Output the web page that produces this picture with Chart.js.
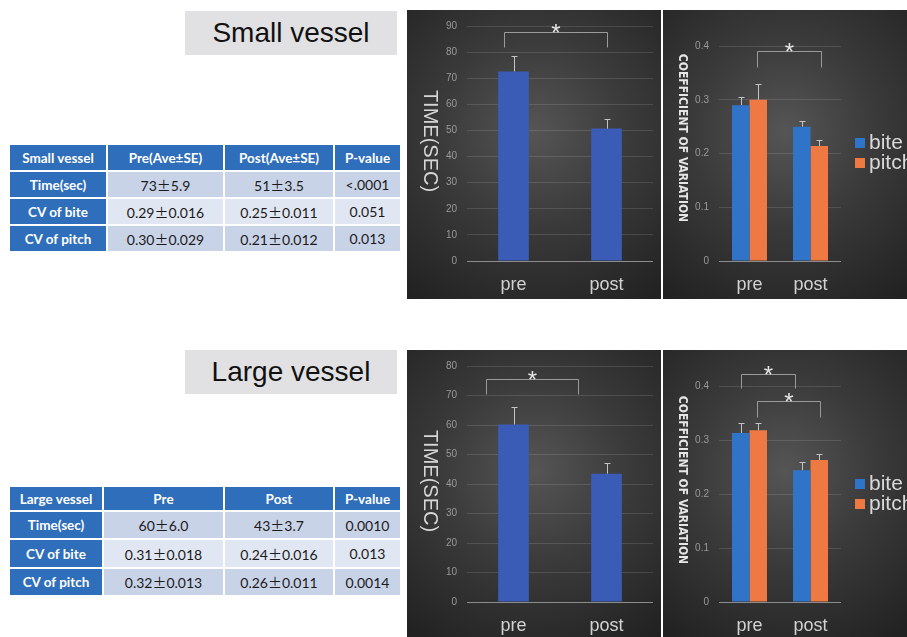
<!DOCTYPE html>
<html>
<head>
<meta charset="utf-8">
<script src="https://cdn.jsdelivr.net/npm/chart.js@4.4.1/dist/chart.umd.min.js"></script>
<style>
  body { margin: 0; width: 907px; height: 637px; overflow: hidden; background: #fff; position: relative; font-family: 'Liberation Sans', Arial, sans-serif; }
  .title { position: absolute; left: 185px; width: 212px; height: 44px; background: #e1e1e3; color: #111; font-size: 28px; text-align: center; line-height: 44px; }
  .panel { position: absolute; background: radial-gradient(ellipse 80% 70% at 50% 42%, #555 0%, #3b3b3b 45%, #222 100%); }
  .panel canvas { position: absolute; left: 0; top: 0; }
  .ytitle { position: absolute; writing-mode: vertical-rl; transform: translate(-50%, -50%); white-space: nowrap; }
  .ytime { font-size: 20px; color: #d6d6d6; }
  .ycv { font-size: 12px; font-weight: bold; color: #e6e6e6; font-family: 'Liberation Sans Narrow', 'DejaVu Sans Condensed', sans-serif; }
  .legend { position: absolute; left: 192px; font-size: 21px; color: #d9d9d9; white-space: nowrap; }
  .legend div { height: 20px; line-height: 20px; }
  .legend span.box { display: inline-block; width: 10px; height: 10px; margin-right: 4px; vertical-align: 1px; }
  table { position: absolute; left: 8px; border-collapse: collapse; table-layout: fixed; font-family: Lato, 'Open Sans', sans-serif; }
  td { border: 2px solid #fff; text-align: center; padding: 0; font-size: 14px; color: #1a1a1a; }
  td.head { background: #2f6eba; color: #fff; font-weight: bold; font-size: 13.5px; }
  tr.dark td { background: #c9d3e8; }
  tr.light td { background: #e1e7f2; }
  tr td.head { background: #2f6eba; }
  .pm { font-family: 'Noto Sans CJK JP', sans-serif; }
</style>
</head>
<body>

<div class="title" style="top:11px">Small vessel</div>
<div class="title" style="top:350px">Large vessel</div>

<table id="tSmall" style="top:143px"></table>
<table id="tLarge" style="top:485px"></table>

<div class="panel" style="left:407px;top:10px;width:254px;height:289px">
  <canvas id="c1" width="254" height="289"></canvas>
  <div class="ytitle ytime" style="left:23px;top:131px">TIME(SEC)</div>
</div>
<div class="panel" style="left:663px;top:10px;width:244px;height:289px">
  <canvas id="c2" width="244" height="289"></canvas>
  <div class="ytitle ycv" style="left:20px;top:128px">COEFFICIENT OF VARIATION</div>
  <div class="legend" id="lg2" style="top:122px"></div>
</div>
<div class="panel" style="left:407px;top:350px;width:254px;height:287px">
  <canvas id="c3" width="254" height="287"></canvas>
  <div class="ytitle ytime" style="left:23px;top:131px">TIME(SEC)</div>
</div>
<div class="panel" style="left:663px;top:350px;width:244px;height:287px">
  <canvas id="c4" width="244" height="287"></canvas>
  <div class="ytitle ycv" style="left:20px;top:130px">COEFFICIENT OF VARIATION</div>
  <div class="legend" id="lg4" style="top:123px"></div>
</div>

<script>
// ---- data ----
const categories = ['pre', 'post'];
const cvSeries = ['bite', 'pitch'];
const cvColors = ['#2f74c9', '#ef7943'];
const timeColor = '#3a5cb6';

const smallTime = [72.6, 50.7];
const smallTimeErr = [5.9, 3.5];
const smallBite = [0.29, 0.25];
const smallBiteErr = [0.016, 0.011];
const smallPitch = [0.30, 0.214];
const smallPitchErr = [0.029, 0.012];

const largeTime = [60.2, 43.5];
const largeTimeErr = [6.0, 3.7];
const largeBite = [0.313, 0.244];
const largeBiteErr = [0.018, 0.016];
const largePitch = [0.318, 0.263];
const largePitchErr = [0.013, 0.011];

// significance brackets: category index span, value of top line and feet
const smallTimeMarks = [{ from: -0.1, to: 1.0, top: 87.8, foot: 81.8 }];
const smallCvMarks = [{ from: 0.13, to: 1.17, top: 0.391, foot: 0.361 }];
const largeTimeMarks = [{ from: -0.3, to: 0.69, top: 75.7, foot: 70.4 }];
const largeCvMarks = [
  { from: -0.14, to: 0.75, top: 0.422, foot: 0.396 },
  { from: 0.12, to: 1.16, top: 0.372, foot: 0.343 }
];

// tables
const smallHead = ['Small vessel', 'Pre(Ave±SE)', 'Post(Ave±SE)', 'P-value'];
const smallRows = [
  ['Time(sec)', '73±5.9', '51±3.5', '<.0001'],
  ['CV of bite', '0.29±0.016', '0.25±0.011', '0.051'],
  ['CV of pitch', '0.30±0.029', '0.21±0.012', '0.013']
];
const largeHead = ['Large vessel', 'Pre', 'Post', 'P-value'];
const largeRows = [
  ['Time(sec)', '60±6.0', '43±3.7', '0.0010'],
  ['CV of bite', '0.31±0.018', '0.24±0.016', '0.013'],
  ['CV of pitch', '0.32±0.013', '0.26±0.011', '0.0014']
];

// ---- tables ----
function buildTable(id, head, rows, widths, heights) {
  const t = document.getElementById(id);
  let html = '<colgroup>' + widths.map(w => `<col style="width:${w}px">`).join('') + '</colgroup>';
  html += `<tr style="height:${heights[0]}px">` + head.map(h => `<td class="head">${h}</td>`).join('') + '</tr>';
  rows.forEach((r, i) => {
    html += `<tr class="${i % 2 ? 'light' : 'dark'}" style="height:${heights[i + 1]}px">`;
    r.forEach((c, j) => {
      const txt = c.replace('<', '&lt;').replace('±', '<span class="pm">±</span>');
      html += j === 0 ? `<td class="head">${txt}</td>` : `<td>${txt}</td>`;
    });
    html += '</tr>';
  });
  t.innerHTML = html;
}
buildTable('tSmall', smallHead, smallRows, [98, 117, 110, 67], [27, 27, 27, 27]);
buildTable('tLarge', largeHead, largeRows, [94, 121, 110, 67], [25, 28, 29, 28]);

// ---- legends ----
['lg2', 'lg4'].forEach(id => {
  document.getElementById(id).innerHTML = cvSeries.map((s, i) =>
    `<div><span class="box" style="background:${cvColors[i]}"></span>${s}</div>`).join('');
});

// ---- plugins ----
const errorBars = {
  id: 'errorBars',
  afterDatasetsDraw(chart) {
    const ctx = chart.ctx;
    const y = chart.scales.y;
    chart.data.datasets.forEach((ds, i) => {
      chart.getDatasetMeta(i).data.forEach((bar, j) => {
        const x = Math.round(bar.x) + 0.5;
        const top = Math.round(y.getPixelForValue(ds.data[j] + ds.errors[j])) + 0.5;
        ctx.save();
        ctx.strokeStyle = '#c4c4c4';
        ctx.lineWidth = 1;
        ctx.beginPath();
        ctx.moveTo(x, bar.y);
        ctx.lineTo(x, top);
        ctx.moveTo(x - 3, top);
        ctx.lineTo(x + 3, top);
        ctx.stroke();
        ctx.restore();
      });
    });
  }
};

function bracketPlugin(list) {
  return {
    id: 'brackets',
    afterDraw(chart) {
      const { ctx, scales: { x, y } } = chart;
      list.forEach(b => {
        const x1 = Math.round(x.getPixelForValue(b.from)) + 0.5;
        const x2 = Math.round(x.getPixelForValue(b.to)) + 0.5;
        const yt = Math.round(y.getPixelForValue(b.top)) + 0.5;
        const yf = Math.round(y.getPixelForValue(b.foot)) + 0.5;
        ctx.save();
        ctx.strokeStyle = '#9a9a9a';
        ctx.lineWidth = 1;
        ctx.beginPath();
        ctx.moveTo(x1, yf);
        ctx.lineTo(x1, yt);
        ctx.lineTo(x2, yt);
        ctx.lineTo(x2, yf);
        ctx.stroke();
        ctx.fillStyle = '#e6e6e6';
        ctx.font = '24px "Liberation Sans"';
        ctx.textAlign = 'center';
        ctx.fillText('*', (x1 + x2) / 2, yt + 8);
        ctx.restore();
      });
    }
  };
}

// ---- charts ----
function makeChart(id, datasets, yMax, step, marks, pad, yWidth, xHeight, catPct) {
  return new Chart(document.getElementById(id), {
    type: 'bar',
    data: {
      labels: categories,
      datasets: datasets.map(d => ({
        label: d.label,
        data: d.data,
        errors: d.errors,
        backgroundColor: d.color,
        borderWidth: 0,
        barPercentage: 1,
        categoryPercentage: catPct
      }))
    },
    options: {
      responsive: false,
      animation: false,
      layout: { padding: pad },
      plugins: { legend: { display: false }, tooltip: { enabled: false } },
      scales: {
        x: {
          grid: { display: false, drawTicks: false },
          border: { display: false },
          ticks: { color: '#d2d2d2', font: { size: 18, family: 'Liberation Sans' }, padding: 13 },
          afterFit(s) { s.height = xHeight; }
        },
        y: {
          min: 0,
          max: yMax,
          ticks: { stepSize: step, color: '#999', font: { size: 10, family: 'Liberation Sans' }, padding: 10 },
          grid: {
            drawTicks: false,
            color: c => c.tick.value === 0 ? '#8c8c8c' : 'rgba(255,255,255,0.12)'
          },
          border: { display: false },
          afterFit(s) { s.width = yWidth; }
        }
      }
    },
    plugins: [errorBars, bracketPlugin(marks)]
  });
}

makeChart('c1', [{ label: 'time', data: smallTime, errors: smallTimeErr, color: timeColor }],
  90, 10, smallTimeMarks, { top: 9, right: 8, left: 0, bottom: 0 }, 60, 38, 0.33);

makeChart('c2', [
  { label: cvSeries[0], data: smallBite, errors: smallBiteErr, color: cvColors[0] },
  { label: cvSeries[1], data: smallPitch, errors: smallPitchErr, color: cvColors[1] }
], 0.4, 0.1, smallCvMarks, { top: 36, right: 66, left: 0, bottom: 0 }, 56, 38, 0.574);

makeChart('c3', [{ label: 'time', data: largeTime, errors: largeTimeErr, color: timeColor }],
  80, 10, largeTimeMarks, { top: 10, right: 8, left: 0, bottom: 0 }, 60, 35, 0.33);

makeChart('c4', [
  { label: cvSeries[0], data: largeBite, errors: largeBiteErr, color: cvColors[0] },
  { label: cvSeries[1], data: largePitch, errors: largePitchErr, color: cvColors[1] }
], 0.4, 0.1, largeCvMarks, { top: 36, right: 66, left: 0, bottom: 0 }, 56, 35, 0.574);
</script>
</body>
</html>
